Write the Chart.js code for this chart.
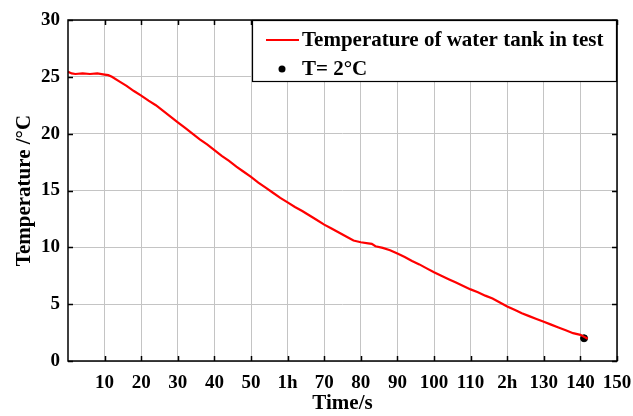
<!DOCTYPE html>
<html>
<head>
<meta charset="utf-8">
<script src="https://cdn.jsdelivr.net/npm/chart.js@4"></script>
<style>
  html, body { margin: 0; padding: 0; background: #fff; }
</style>
</head>
<body>
<canvas id="tempChart" width="633" height="416"></canvas>
<script>
// measured curve of the tank (time, temperature)
const timeVals = [0, 1, 2, 4, 6, 8, 10, 11, 12, 14, 16, 18, 20, 22, 24, 26, 28, 30, 32, 34, 36, 38, 40, 42, 44, 46, 48, 50,
  52, 54, 56, 58, 60, 62, 64, 66, 68, 70, 72, 74, 76, 78, 80, 82, 83, 84, 86, 88, 90, 92, 94, 96, 98, 100,
  102, 104, 106, 108, 110, 112, 114, 116, 118, 120, 122, 124, 126, 128, 130, 132, 134, 136, 138, 140, 142];
const tempVals = [25.45, 25.3, 25.25, 25.3, 25.25, 25.3, 25.2, 25.15, 25.0, 24.6, 24.2, 23.75, 23.35, 22.9, 22.5, 22.0, 21.5, 21.0, 20.5, 20.0, 19.5, 19.05, 18.55, 18.05, 17.6, 17.1, 16.65, 16.2,
  15.7, 15.25, 14.8, 14.35, 13.95, 13.55, 13.2, 12.8, 12.4, 12.0, 11.65, 11.3, 10.95, 10.6, 10.45, 10.35, 10.3, 10.1, 9.95, 9.75, 9.45, 9.15, 8.8, 8.5, 8.15, 7.8,
  7.5, 7.2, 6.9, 6.6, 6.3, 6.05, 5.75, 5.5, 5.15, 4.8, 4.5, 4.2, 3.95, 3.7, 3.45, 3.2, 2.95, 2.7, 2.45, 2.3, 1.95];

// the marked point T = 2°C
const markTime = [141];
const markTemp = [2];

// axis ticks
const xTicks = [10, 20, 30, 40, 50, 60, 70, 80, 90, 100, 110, 120, 130, 140, 150];
const xTickLabels = ['10', '20', '30', '40', '50', '1h', '70', '80', '90', '100', '110', '2h', '130', '140', '150'];
const yTicks = [0, 5, 10, 15, 20, 25, 30];

const serif = "'Liberation Serif', 'Times New Roman', serif";

// inward tick marks on all four sides + frame
const frameTicks = {
  id: 'frameTicks',
  afterDatasetsDraw(chart) {
    const { ctx, chartArea: a, scales } = chart;
    ctx.save();
    ctx.strokeStyle = '#000';
    ctx.lineWidth = 1.5;
    ctx.beginPath();
    xTicks.forEach(v => {
      const px = Math.round(scales.x.getPixelForValue(v)) + 0.5;
      ctx.moveTo(px, a.bottom); ctx.lineTo(px, a.bottom - 5);
      ctx.moveTo(px, a.top); ctx.lineTo(px, a.top + 5);
    });
    yTicks.forEach(v => {
      const py = Math.round(scales.y.getPixelForValue(v)) + 0.5;
      ctx.moveTo(a.left, py); ctx.lineTo(a.left + 5, py);
      ctx.moveTo(a.right, py); ctx.lineTo(a.right - 5, py);
    });
    ctx.stroke();
    ctx.strokeRect(a.left, a.top, a.right - a.left, a.bottom - a.top);
    ctx.restore();
  }
};

// boxed legend in the top right corner
const legendBox = {
  id: 'legendBox',
  afterDraw(chart) {
    const { ctx, chartArea: a } = chart;
    const ds = chart.data.datasets;
    const left = 252, top = a.top, right = a.right, bottom = 82;
    ctx.save();
    ctx.fillStyle = '#fff';
    ctx.fillRect(left, top, right - left, bottom - top);
    ctx.strokeStyle = '#000';
    ctx.lineWidth = 1.2;
    ctx.strokeRect(left + 0.5, top + 0.5, right - left - 1, bottom - top - 1);

    // row 1: line sample
    ctx.strokeStyle = ds[0].borderColor;
    ctx.lineWidth = 2;
    ctx.beginPath();
    ctx.moveTo(266, 40); ctx.lineTo(299, 40);
    ctx.stroke();
    // row 2: dot
    ctx.fillStyle = ds[1].backgroundColor;
    ctx.beginPath();
    ctx.arc(282, 69, 3.5, 0, Math.PI * 2);
    ctx.fill();

    ctx.fillStyle = '#000';
    ctx.font = 'bold 21px ' + serif;
    ctx.textBaseline = 'middle';
    ctx.textAlign = 'left';
    ctx.fillText(ds[0].label, 302, 41);
    ctx.fillText(ds[1].label, 302, 70);
    ctx.restore();
  }
};

const ctx = document.getElementById('tempChart').getContext('2d');
new Chart(ctx, {
  type: 'line',
  data: {
    datasets: [
      {
        label: 'Temperature of water tank in test',
        data: timeVals.map((t, i) => ({ x: t, y: tempVals[i] })),
        borderColor: '#ff0000',
        backgroundColor: '#ff0000',
        borderWidth: 2.2,
        pointRadius: 0,
        tension: 0
      },
      {
        type: 'scatter',
        label: 'T= 2°C',
        data: markTime.map((t, i) => ({ x: t, y: markTemp[i] })),
        backgroundColor: '#000',
        borderColor: '#000',
        pointRadius: 3.5
      }
    ]
  },
  options: {
    responsive: false,
    animation: false,
    layout: { padding: { top: 20, right: 16, left: 0, bottom: 0 } },
    plugins: {
      legend: { display: false },
      tooltip: { enabled: false }
    },
    scales: {
      x: {
        type: 'linear',
        min: 0,
        max: 150,
        afterBuildTicks: scale => { scale.ticks = xTicks.map(v => ({ value: v })); },
        afterFit: scale => {
          scale.height = 55;
          scale.paddingRight = 0;
          scale.paddingLeft = 0;
        },
        ticks: {
          autoSkip: false,
          maxRotation: 0,
          padding: 11,
          color: '#000',
          font: { family: serif, size: 19, weight: 'bold' },
          callback: v => xTickLabels[xTicks.indexOf(v)]
        },
        grid: { color: '#c4c4c4', lineWidth: 1, drawTicks: false },
        border: { display: false },
        title: {
          display: true,
          text: 'Time/s',
          color: '#000',
          font: { family: serif, size: 21, weight: 'bold' },
          padding: { top: 0, bottom: 0 }
        }
      },
      y: {
        min: 0,
        max: 30,
        afterBuildTicks: scale => { scale.ticks = yTicks.map(v => ({ value: v })); },
        afterFit: scale => {
          scale.width = 68;
          scale.paddingTop = 0;
          scale.paddingBottom = 0;
        },
        ticks: {
          padding: 8,
          color: '#000',
          font: { family: serif, size: 19, weight: 'bold' }
        },
        grid: { color: '#c4c4c4', lineWidth: 1, drawTicks: false },
        border: { display: false },
        title: {
          display: true,
          text: 'Temperature /°C',
          color: '#000',
          font: { family: serif, size: 21, weight: 'bold' },
          padding: { top: 12, bottom: 0 }
        }
      }
    }
  },
  plugins: [frameTicks, legendBox]
});
</script>
</body>
</html>
